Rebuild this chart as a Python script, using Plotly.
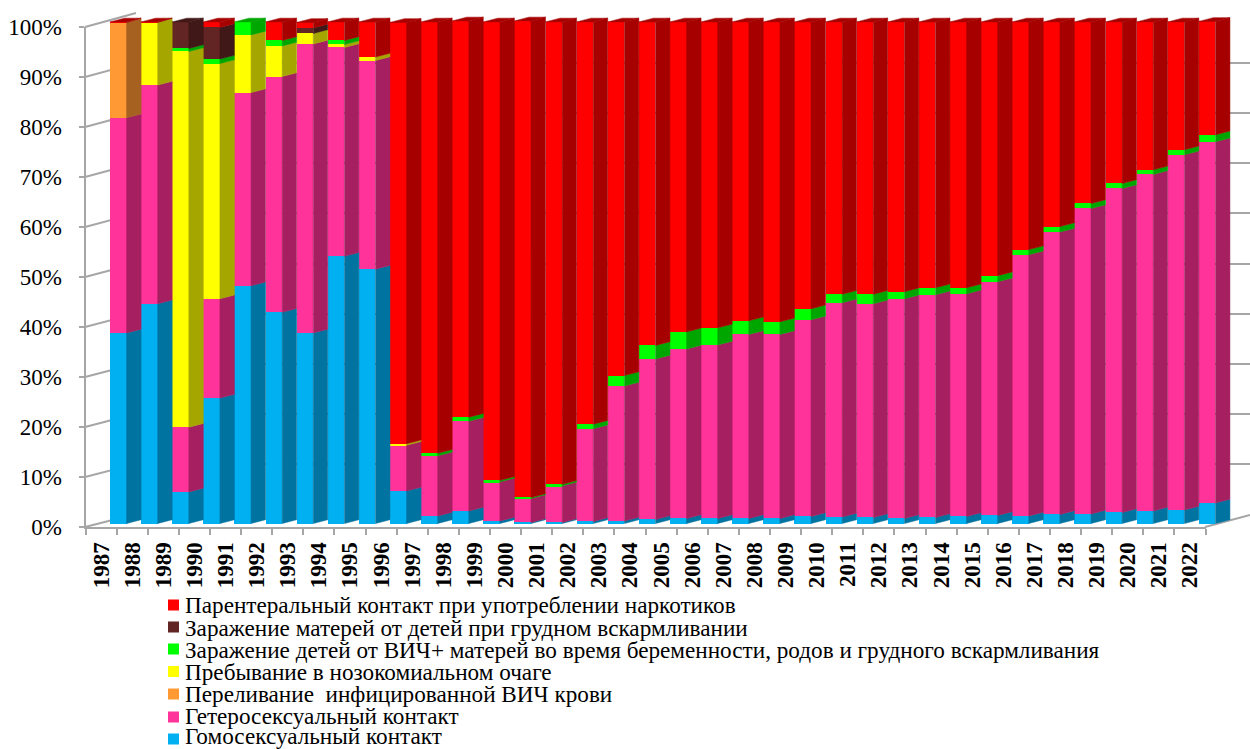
import plotly.graph_objects as go

years = list(range(1987, 2023))
homo = [38,43.8,6.3,25,47.4,42.1,38,53.3,50.7,6.5,1.5,2.5,0.5,0.2,0.2,0.4,0.5,0.8,1,1,1,1,1.4,1.3,1.2,1,1.2,1.4,1.6,1.5,1.8,1.9,2.2,2.5,2.7,4.1]
hetero = [42.9,43.6,12.9,19.8,38.5,47,57.6,41.6,41.6,9.1,12,17.9,7.8,4.8,7.3,18.5,26.9,32,33.8,34.6,36.7,36.7,39.2,42.7,42.6,43.8,44.4,44.4,46.6,52.1,56.3,60.9,64.6,67.1,70.8,72]
transfusion = [19]+[0]*35
nosocomial = [0,12.5,74.9,46.9,11.5,6.1,2.1,0.6,0.7,0.3]+[0]*26
mother_child = [0,0,0.6,0.9,2.6,1.1,0,0.8,0,0,0.5,0.8,0.3,0.2,0.3,0.9,2.1,2.7,3.4,3.4,2.7,2.5,2.2,1.7,1.9,1.4,1.4,1.2,1.2,1,1.1,1,1,0.9,1,1.4]
child_mother = [0,0,5.3,6.3,0,0,1.1]+[0]*29
parenteral = [0.1,0.1,0,1.1,0,3.7,1.1,3.7,7,84,86,79,91.4,95,92.2,80.2,70.5,64.5,61.8,61,59.6,59.8,57.2,54.3,54.3,53.8,53,53,50.6,45.4,40.8,36.2,32.2,29.5,25.5,22.6]
y_ticks = list(range(0, 101, 10))

series = [
    ("Гомосексуальный контакт", homo, "#00B0F0", "#0073A0"),
    ("Гетеросексуальный контакт", hetero, "#FF3399", "#A61F61"),
    ("Переливание  инфицированной ВИЧ крови", transfusion, "#FF9933", "#A66120"),
    ("Пребывание в нозокомиальном очаге", nosocomial, "#FFFF00", "#A6A600"),
    ("Заражение детей от ВИЧ+ матерей во время беременности, родов и грудного вскармливания", mother_child, "#00FF00", "#00A600"),
    ("Заражение матерей от детей при грудном вскармливании", child_mother, "#632523", "#401817"),
    ("Парентеральный контакт при употреблении наркотиков", parenteral, "#FF0000", "#A60000"),
]

W, H = 1250, 749
FONT = "Liberation Serif"
GRAY = "#A6A6A6"
px = lambda v: v / W
py = lambda v: 1 - v / H

PITCH = 31.11
BAR_W = 16.6 / PITCH
DEPTH = 14.5 / PITCH
RISE = 0.75

fig = go.Figure()

# back wall (gridlines), axis frame (labels), bars
fig.add_trace(go.Scatter(x=[0], y=[None], xaxis="x", yaxis="y", showlegend=False, hoverinfo="skip"))
fig.add_trace(go.Scatter(x=[str(y) for y in years], y=[None]*len(years), xaxis="x2", yaxis="y2", showlegend=False, hoverinfo="skip"))

cum = [0.0] * len(years)
top_col = [None] * len(years)
for name, vals, col, dark in series:
    fig.add_trace(go.Bar(x=years, y=vals, width=BAR_W, name=name, xaxis="x3", yaxis="y3",
                         marker=dict(color=col, line=dict(width=0)), showlegend=False))
    sx, sy = [], []
    for i, v in enumerate(vals):
        if v <= 0:
            continue
        xr = years[i] + BAR_W / 2
        b, t = cum[i], cum[i] + v
        sx += [xr, xr + DEPTH, xr + DEPTH, xr, xr, None]
        sy += [b, b + RISE, t + RISE, t, b, None]
        cum[i] = t
        top_col[i] = dark
    fig.add_trace(go.Scatter(x=sx, y=sy, mode="lines", fill="toself", fillcolor=dark,
                             line=dict(width=0.5, color=dark), xaxis="x3", yaxis="y3",
                             showlegend=False, hoverinfo="skip"))

# top faces, in the colour of the uppermost series of each bar
for _, _, _, dark in series:
    tx, ty = [], []
    for i, y in enumerate(years):
        if top_col[i] != dark:
            continue
        xl, xr = y - BAR_W / 2, y + BAR_W / 2
        t = cum[i]
        tx += [xl, xr, xr + DEPTH, xl + DEPTH, xl, None]
        ty += [t, t, t + RISE, t + RISE, t, None]
    if tx:
        fig.add_trace(go.Scatter(x=tx, y=ty, mode="lines", fill="toself", fillcolor=dark,
                                 line=dict(width=0.5, color=dark), xaxis="x3", yaxis="y3",
                                 showlegend=False, hoverinfo="skip"))

shapes = []
# left wall and floor slants
for v in y_ticks:
    shapes.append(dict(type="line", xref="paper", yref="paper", layer="below",
                       x0=px(85), x1=px(136), y0=py(527 - 5.0 * v), y1=py(514 - 5.01 * v),
                       line=dict(color=GRAY, width=2)))
shapes.append(dict(type="line", xref="paper", yref="paper", layer="below",
                   x0=px(1205), x1=px(1250), y0=py(527), y1=py(515), line=dict(color=GRAY, width=2)))

annotations = []
SWATCH_Y = [605, 627, 649, 671.5, 694, 717, 739]
TEXT_Y = [605, 627.5, 649.5, 671.5, 694, 716, 736]
for (name, _, col, _), sy_, ty_ in zip(reversed(series), SWATCH_Y, TEXT_Y):
    shapes.append(dict(type="rect", xref="paper", yref="paper", x0=px(168), x1=px(179),
                       y0=py(sy_ + 5.5), y1=py(sy_ - 5.5), fillcolor=col, line=dict(width=0)))
    annotations.append(dict(text=name, xref="paper", yref="paper", x=px(183), y=py(ty_),
                            xanchor="left", yanchor="middle", showarrow=False,
                            font=dict(family=FONT, size=23.2, color="#000000")))

fig.update_layout(
    width=W, height=H, margin=dict(l=0, r=0, t=0, b=0, autoexpand=False), autosize=False,
    paper_bgcolor="white", plot_bgcolor="rgba(0,0,0,0)",
    barmode="stack", showlegend=False,
    font=dict(family=FONT, color="#000000"),
    shapes=shapes, annotations=annotations,
    xaxis=dict(domain=[px(136), 1], range=[0, 1], visible=False, automargin=False),
    yaxis=dict(domain=[py(514), py(13)], range=[0, 100], dtick=10, showgrid=True, gridcolor=GRAY,
               gridwidth=2, zeroline=False, showticklabels=False, ticks="", showline=False, anchor="x", automargin=False),
    xaxis2=dict(domain=[px(85.5), px(1205.5)], type="category", categoryorder="array",
                categoryarray=[str(y) for y in years], range=[-0.5, 35.5], tickson="boundaries", ticks="outside", ticklen=6,
                tickwidth=1.5, tickcolor=GRAY, showline=True, linecolor=GRAY, linewidth=2, showgrid=False,
                tickangle=-90, ticklabelstandoff=4, anchor="y2", automargin=False,
                tickfont=dict(family=FONT, size=23, color="#000000", weight="bold")),
    yaxis2=dict(domain=[py(527), py(27)], range=[0, 100], tickvals=y_ticks, ticktext=[f"{v}%" for v in y_ticks],
                ticks="outside", ticklen=5, tickwidth=1.5, tickcolor=GRAY, showline=True, linecolor=GRAY,
                linewidth=2, showgrid=False, zeroline=False, ticklabelstandoff=12, anchor="x2", automargin=False,
                tickfont=dict(family=FONT, size=23, color="#000000")),
    xaxis3=dict(domain=[px(118.3 - PITCH), px(118.3 + 36.2 * PITCH)], range=[1986, 2023.2],
                visible=False, anchor="y3", automargin=False),
    yaxis3=dict(domain=[py(523.5 + 5.016), py(523.5 - 103 * 5.016)], range=[-1, 103], visible=False, anchor="x3", automargin=False),
)

fig.write_html("out.html", config=dict(displayModeBar=False),
               post_script="document.body.style.margin='0';document.body.style.overflow='hidden';")
